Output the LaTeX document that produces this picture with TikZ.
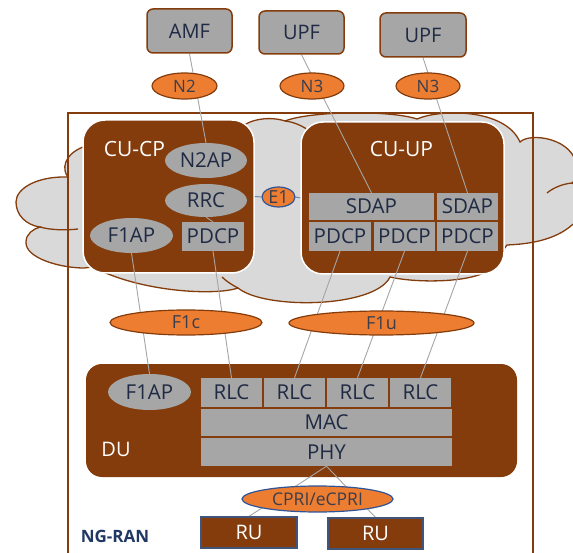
\documentclass[tikz,border=0pt]{standalone}
\usepackage{fontspec}
\setmainfont{Open Sans}
\usetikzlibrary{shapes.geometric}

\definecolor{rust}{HTML}{843C0C}
\definecolor{stone}{HTML}{A6A6A6}
\definecolor{amber}{HTML}{ED7D31}
\definecolor{mist}{HTML}{D9D9D9}
\definecolor{ink}{HTML}{1F2A44}
\definecolor{tag}{HTML}{3A3E4C}
\definecolor{steel}{HTML}{2F5597}
\definecolor{slate}{HTML}{41557A}
\definecolor{wire}{HTML}{A5A5A5}
\definecolor{navy}{HTML}{203864}
\definecolor{bluewire}{HTML}{6C87B0}

\pgfdeclarelayer{backdrop}
\pgfdeclarelayer{wiring}
\pgfsetlayers{backdrop,wiring,main}

\tikzset{
  sz/.style={font=\fontsize{#1}{#1}\selectfont},
  netfn/.style={rectangle, draw=rust, line width=1.5pt, fill=stone, rounded corners=6pt,
                text=ink, sz=20, inner sep=0pt},
  iface/.style={ellipse, draw=rust, line width=1.2pt, fill=amber, text=tag, inner sep=0pt},
  bus/.style={ellipse, draw=steel, line width=1.2pt, fill=amber, text=tag, inner sep=0pt},
  proto/.style={ellipse, fill=stone, text=ink, sz=20.5, inner sep=0pt},
  layerbox/.style={rectangle, fill=stone, text=ink, sz=20.5, inner sep=0pt},
  housing/.style={rectangle, fill=rust, rounded corners=#1, inner sep=0pt},
  radio/.style={rectangle, fill=rust, draw=slate, line width=1.2pt, text=white, sz=20, inner sep=0pt},
  title/.style={text=white, sz=21, inner sep=0pt},
  link/.style={draw=wire, line width=0.9pt},
  e1link/.style={draw=bluewire, line width=1pt},
  cloudline/.style={draw=rust, line width=1.3pt},
}

\begin{document}
\begin{tikzpicture}[x=1pt,y=-1pt]
\useasboundingbox (0,0) rectangle (573,553);

% ---------- cloud, NG-RAN frame and the unit housings ----------
\begin{pgfonlayer}{backdrop}
  \path[cloudline, fill=mist]
    (84,268) .. controls (60,268) and (25,258) .. (26,242)
             .. controls (26,234) and (33,229) .. (40,227)
             .. controls (26,225) and (16,215) .. (16,202)
             .. controls (16,188) and (38,176) .. (68,177)
             .. controls (62,170) and (63,155) .. (83,147)
             -- (240,128)
             .. controls (250,119) and (270,116) .. (285,121)
             .. controls (310,111) and (390,110) .. (417,119)
             .. controls (440,109) and (505,108) .. (520,142)
             .. controls (530,132) and (575,138) .. (577,168)
             .. controls (578,175) and (576,180) .. (572,183)
             .. controls (585,188) and (590,215) .. (572,225)
             .. controls (555,240) and (530,244) .. (507,245)
             -- (490,268)
             .. controls (480,282) and (420,284) .. (390,277)
             .. controls (375,308) and (265,310) .. (238,288)
             .. controls (215,296) and (140,292) .. (93,267)
             -- cycle;
  % inner arcs of the cloud lobes
  \draw[cloudline] (40,227) .. controls (50,230) and (66,230.5) .. (78,229);
  \draw[cloudline] (285,121) .. controls (294,122) and (303,126) .. (311,132);
  \draw[cloudline] (572,183) .. controls (562,184) and (553,188) .. (547,193);
  \draw[cloudline] (238,288) .. controls (232,285) and (226,281) .. (222,277);

  % NG-RAN boundary
  \draw[rust, line width=1.2pt] (68,113) rectangle (533,575);

  % CU-CP, CU-UP and DU housings
  \node[housing=22pt, draw=white, line width=1.5pt, minimum width=171pt, minimum height=153pt]
       (cucp) at (168.5,196.5) {};
  \node[housing=22pt, draw=white, line width=1.5pt, minimum width=203pt, minimum height=152pt]
       (cuup) at (402.5,198) {};
  \node[housing=16pt, minimum width=431pt, minimum height=113pt] (du) at (301.5,420.5) {};
\end{pgfonlayer}

% ---------- core network ----------
\node[netfn, minimum width=85pt, minimum height=44pt] (amf)  at (189.5,31)   {AMF};
\node[netfn, minimum width=85pt, minimum height=43pt] (upfa) at (301.5,32.5) {UPF};
\node[netfn, minimum width=86pt, minimum height=44pt] (upfb) at (423,35)     {UPF};

\node[iface, sz=17, minimum width=65pt, minimum height=26pt] (n2)  at (184.5,86) {N2};
\node[iface, sz=17, minimum width=64pt, minimum height=26pt] (n3a) at (312,86)   {N3};
\node[iface, sz=17, minimum width=64pt, minimum height=26pt] (n3b) at (428,86)   {N3};

% ---------- CU-CP ----------
\node[title] (cucplabel) at (134.5,148.7) {CU-CP};
\node[proto, minimum width=82pt, minimum height=35pt] (n2ap)  at (206,160.5)   {N2AP};
\node[proto, minimum width=82pt, minimum height=33pt] (rrc)   at (206,200.5)   {RRC};
\node[proto, minimum width=83pt, minimum height=35pt] (f1apc) at (131.5,235.5) {F1AP};
\node[layerbox, minimum width=62pt, minimum height=29pt] (pdcpc) at (213,236.5) {PDCP};

\node[bus, sz=18, minimum width=33pt, minimum height=20pt] (e1) at (278.5,197) {E1};

% ---------- CU-UP ----------
\node[title] (cuuplabel) at (401.5,149.5) {CU-UP};
\node[layerbox, minimum width=125pt, minimum height=27pt] (sdapa) at (371.5,206.5) {SDAP};
\node[layerbox, minimum width=61pt,  minimum height=27pt] (sdapb) at (467.5,206.5) {SDAP};
\node[layerbox, minimum width=62pt,  minimum height=29pt] (pdcpa) at (340,236.5)   {PDCP};
\node[layerbox, minimum width=61pt,  minimum height=29pt] (pdcpb) at (404.5,236.5) {PDCP};
\node[layerbox, minimum width=61pt,  minimum height=29pt] (pdcpd) at (467.5,236.5) {PDCP};

% ---------- F1 interfaces ----------
\node[iface, sz=18, minimum width=152pt, minimum height=25pt] (f1c) at (186,322.5) {F1c};
\node[iface, sz=18, minimum width=185pt, minimum height=24pt] (f1u) at (381.5,323) {F1u};

% ---------- DU ----------
\node[title, sz=20] (dulabel) at (116,449) {DU};
\node[proto, minimum width=83pt, minimum height=36pt] (f1apd) at (149.5,392) {F1AP};
\node[layerbox, minimum width=61pt, minimum height=29pt] (rlca) at (231.5,392.5) {RLC};
\node[layerbox, minimum width=61pt, minimum height=29pt] (rlcb) at (294.5,392.5) {RLC};
\node[layerbox, minimum width=61pt, minimum height=29pt] (rlcc) at (357.5,392.5) {RLC};
\node[layerbox, minimum width=61pt, minimum height=29pt] (rlcd) at (420.5,392.5) {RLC};
\node[layerbox, minimum width=251pt, minimum height=27pt] (mac) at (326.5,422.5) {MAC};
\node[layerbox, minimum width=251pt, minimum height=28pt] (phy) at (326.5,452)   {PHY};

% ---------- fronthaul and radio units ----------
\node[bus, sz=17.5, minimum width=151pt, minimum height=26pt] (cpri) at (317.5,499) {CPRI/eCPRI};
\node[radio, minimum width=96pt, minimum height=31pt] (rua) at (249,532.5)   {RU};
\node[radio, minimum width=95pt, minimum height=31pt] (rub) at (375.5,533.5) {RU};

\node[text=navy, font=\fontsize{17}{17}\selectfont\bfseries, inner sep=0pt] (ngran) at (115,536) {NG-RAN};

% ---------- connections ----------
\begin{pgfonlayer}{wiring}
  \draw[link] (amf.south)   -- (n2ap.north);
  \draw[link] (upfa.south)  -- (sdapa.north);
  \draw[link] (upfb.south)  -- (sdapb.north);
  \draw[link] (rrc.south)   -- (pdcpc.north);
  \draw[link] (f1apc.south) -- (f1apd.north);
  \draw[link] (pdcpc.south) -- (rlca.north);
  \draw[link] (pdcpa.south) -- (rlcb.north);
  \draw[link] (pdcpb.south) -- (rlcc.north);
  \draw[link] (pdcpd.south) -- (rlcd.north);
  \draw[e1link] (cucp.east) -- (e1.west);
  \draw[e1link] (e1.east)   -- (cuup.west);
  \draw[link] (phy.south) -- (rua.north);
  \draw[link] (phy.south) -- (rub.north);
\end{pgfonlayer}
\end{tikzpicture}
\end{document}
